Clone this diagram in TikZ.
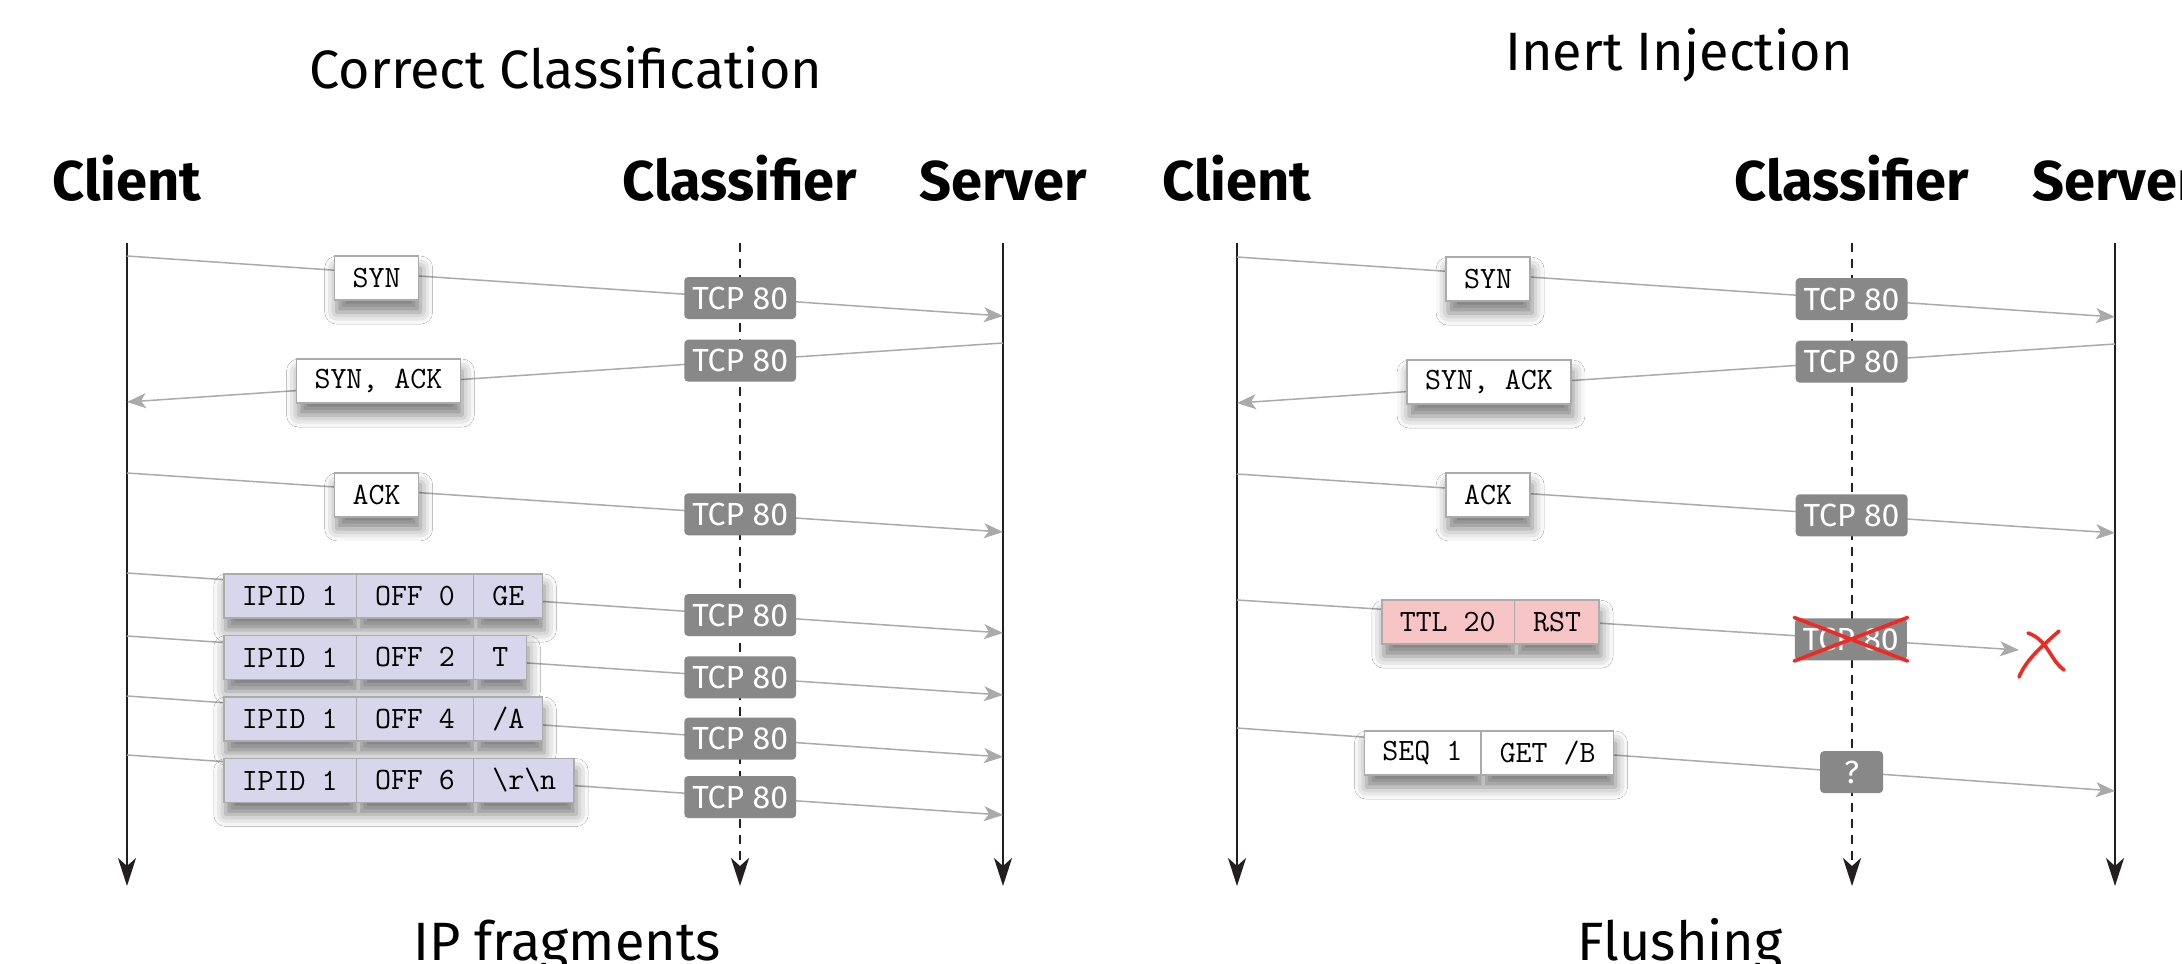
\documentclass[tikz,border=0pt]{standalone}
\usepackage{fontspec}
\setmainfont{Fira Sans}
\usepackage{tikz}
\usetikzlibrary{arrows.meta, positioning, shapes.multipart, shadows.blur}

\definecolor{lifeline}{HTML}{231F20}
\definecolor{msggray}{HTML}{AAAAAA}
\definecolor{portgray}{HTML}{888888}
\definecolor{pktedge}{HTML}{ABABAB}
\definecolor{fraglilac}{HTML}{D8D6EB}
\definecolor{rstpink}{HTML}{F8C5C6}
\definecolor{crossred}{HTML}{EE2A24}

\newcommand{\pktfont}{\ttfamily\fontsize{15.5}{18}\selectfont}

\begin{document}
\begin{tikzpicture}[
		x=0.5pt, y=-0.5pt,
		ptitle/.style={font=\fontsize{27}{30}\selectfont, anchor=base},
		party/.style={font=\fontsize{28}{32}\selectfont\bfseries, anchor=base},
		life/.style={draw=lifeline, line width=1.1pt, -{Stealth[length=14pt, width=9pt, inset=4pt]}},
		cls/.style={life, line width=1.4pt, dash pattern=on 4.5pt off 3.5pt},
		msg/.style={draw=msggray, line width=0.75pt, -{Stealth[length=9.5pt, width=7.5pt, inset=2.5pt]}},
		port/.style={fill=portgray, text=white, rounded corners=2pt, font=\fontsize{16}{18}\selectfont,
			inner xsep=4pt, inner ysep=0pt, minimum height=21pt},
		pkt/.style={draw=pktedge, line width=0.75pt, fill=white, font=\pktfont,
			inner xsep=9pt, inner ysep=0pt, minimum height=22pt,
			blur shadow={shadow xshift=1pt, shadow yshift=-6pt, shadow blur radius=6pt, shadow opacity=50}},
		pktsplit/.style={pkt, rectangle split, rectangle split horizontal, rectangle split parts=#1},
		crossout/.style={draw=crossred, line width=1.8pt, line cap=round}
		]
		\useasboundingbox (0,0) rectangle (2182,963);
		\clip (0,0) rectangle (2182,963);
		\fill[white] (0,0) rectangle (2182,963);
		
		% Correct Classification
		\node[ptitle] (T1) at (566,89) {Correct Classification};
		\node[party] (C1) at (127,200) {Client};
		\node[party] (K1) at (740,200) {Classifier};
		\node[party] (S1) at (1003,200) {Server};
		
		\coordinate (C1a) at (127,243);
		\coordinate (C1b) at (127,886);
		\coordinate (K1a) at (740,243);
		\coordinate (K1b) at (740,886);
		\coordinate (S1a) at (1003,243);
		\coordinate (S1b) at (1003,886);
		\draw[life] (C1a) -- (C1b);
		\draw[cls] (K1a) -- (K1b);
		\draw[life] (S1a) -- (S1b);
		
		\coordinate (m1c) at (127,256);  \coordinate (m1s) at (1003,316);
		\coordinate (m2s) at (1003,343); \coordinate (m2c) at (127,402);
		\coordinate (m3c) at (127,473);  \coordinate (m3s) at (1003,532);
		\coordinate (m4c) at (127,573);  \coordinate (m4s) at (1003,633);
		\coordinate (m5c) at (127,636);  \coordinate (m5s) at (1003,695);
		\coordinate (m6c) at (127,696);  \coordinate (m6s) at (1003,757);
		\coordinate (m7c) at (127,755);  \coordinate (m7s) at (1003,815);
		
		\draw[msg] (m1c) -- node[pkt, pos=.285, yshift=-2.5pt] (syn1) {SYN}
			node[port, pos=.70] (p11) {TCP 80} (m1s);
		\draw[msg] (m2s) -- node[pkt, pos=.713, yshift=2pt] (synack1) {SYN, ACK}
			node[port, pos=.30] (p12) {TCP 80} (m2c);
		\draw[msg] (m3c) -- node[pkt, pos=.285, yshift=-2.5pt] (ack1) {ACK}
			node[port, pos=.70] (p13) {TCP 80} (m3s);
		\draw[msg] (m4c) -- node[port, pos=.70] (p14) {TCP 80} (m4s);
		\draw[msg] (m5c) -- node[port, pos=.70] (p15) {TCP 80} (m5s);
		\draw[msg] (m6c) -- node[port, pos=.70] (p16) {TCP 80} (m6s);
		\draw[msg] (m7c) -- node[port, pos=.70] (p17) {TCP 80} (m7s);
		
		% IP fragments, left aligned
		\node[pktsplit=3, fill=fraglilac, anchor=west] (F1) at (223,596)
			{IPID 1\nodepart{two}OFF 0\nodepart{three}GE};
		\node[pktsplit=3, fill=fraglilac, below=8pt of F1.south west, anchor=north west] (F2)
			{IPID 1\nodepart{two}OFF 2\nodepart{three}T};
		\node[pktsplit=3, fill=fraglilac, below=8pt of F2.south west, anchor=north west] (F3)
			{IPID 1\nodepart{two}OFF 4\nodepart{three}/A};
		\node[pktsplit=3, fill=fraglilac, below=8pt of F3.south west, anchor=north west] (F4)
			{IPID 1\nodepart{two}OFF 6\nodepart{three}\textbackslash r\textbackslash n};
		
		\node[ptitle] (B1) at (567,960) {IP fragments};
		
		% Inert Injection
		\node[ptitle] (T2) at (1679,71) {Inert Injection};
		\node[party] (C2) at (1237,200) {Client};
		\node[party] (K2) at (1852,200) {Classifier};
		\node[party] (S2) at (2116,200) {Server};
		
		\coordinate (C2a) at (1237,243);
		\coordinate (C2b) at (1237,886);
		\coordinate (K2a) at (1852,243);
		\coordinate (K2b) at (1852,886);
		\coordinate (S2a) at (2115,243);
		\coordinate (S2b) at (2115,886);
		\draw[life] (C2a) -- (C2b);
		\draw[cls] (K2a) -- (K2b);
		\draw[life] (S2a) -- (S2b);
		
		\coordinate (n1c) at (1237,257);  \coordinate (n1s) at (2115,317);
		\coordinate (n2s) at (2115,344);  \coordinate (n2c) at (1237,403);
		\coordinate (n3c) at (1237,474);  \coordinate (n3s) at (2115,533);
		\coordinate (n4c) at (1237,600);  \coordinate (drop) at (2019,650);
		\coordinate (n5c) at (1237,728);  \coordinate (n5s) at (2115,791);
		
		\draw[msg] (n1c) -- node[pkt, pos=.286, yshift=-2.5pt] (syn2) {SYN}
			node[port, pos=.70] (p21) {TCP 80} (n1s);
		\draw[msg] (n2s) -- node[pkt, pos=.713, yshift=2pt] (synack2) {SYN, ACK}
			node[port, pos=.30] (p22) {TCP 80} (n2c);
		\draw[msg] (n3c) -- node[pkt, pos=.286, yshift=-2pt] (ack2) {ACK}
			node[port, pos=.70] (p23) {TCP 80} (n3s);
		\draw[msg] (n4c) -- node[pktsplit=2, fill=rstpink, pos=.324, yshift=-3pt] (rst2) {TTL 20\nodepart{two}RST}
			node[port, pos=.785] (p24) {TCP 80} (drop);
		\draw[msg] (n5c) -- node[pktsplit=2, pos=.287, yshift=-3.5pt] (seq2) {SEQ 1\nodepart{two}GET /B}
			node[port, pos=.70, minimum width=31.5pt] (p25) {?} (n5s);
		
		% dropped by the classifier
		\draw[crossout] (p24.north west) -- (p24.south east) (p24.south west) -- (p24.north east);
		\draw[crossout] (2028,633) .. controls (2048,640) and (2050,660) .. (2064,670);
		\draw[crossout] (2059,631) .. controls (2040,648) and (2026,660) .. (2019,677);
		
		\node[ptitle] (B2) at (1680,960) {Flushing};
	\end{tikzpicture}
\end{document}
